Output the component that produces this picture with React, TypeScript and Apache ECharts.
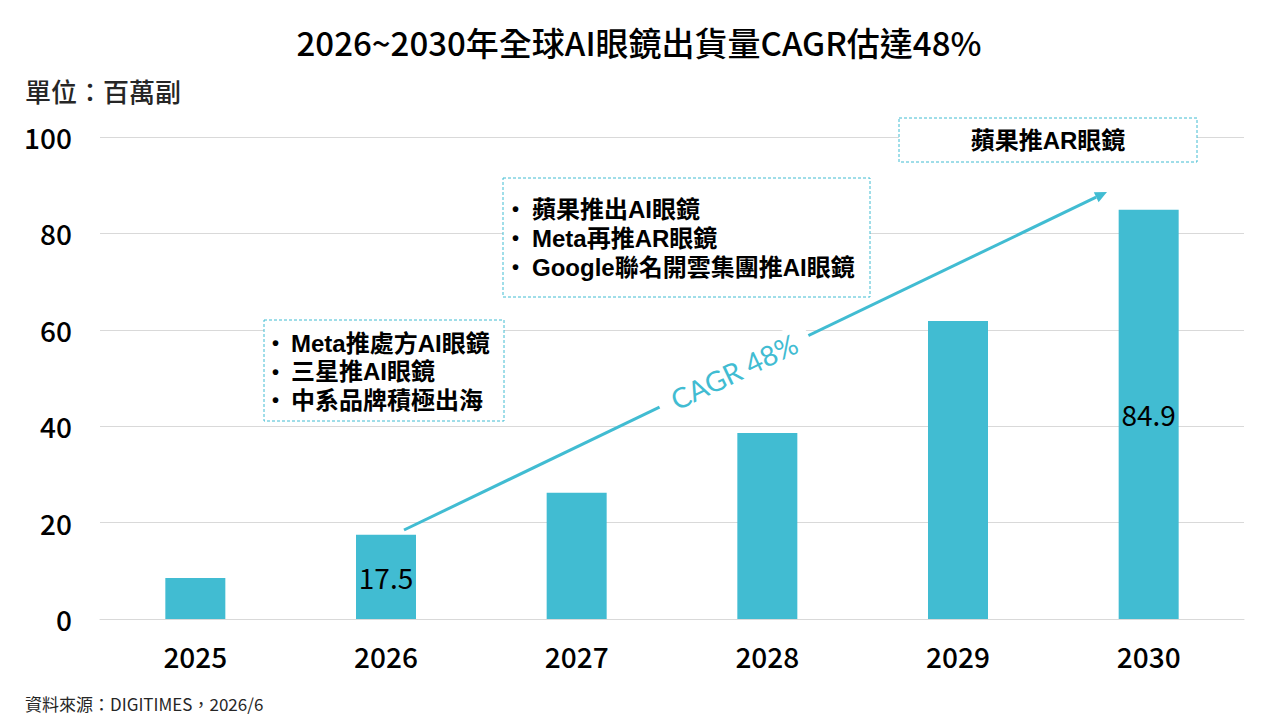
import React, { useEffect, useRef } from "react";
import * as echarts from "echarts";

const categories = ["2025", "2026", "2027", "2028", "2029", "2030"];
const shipments = [8.5, 17.5, 26.2, 38.6, 61.8, 84.9];
const labeledYears = ["2026", "2030"];
const yMin = 0;
const yMax = 100;
const yInterval = 20;

const titleText = "2026~2030年全球AI眼鏡出貨量CAGR估達48%";
const unitText = "單位：百萬副";
const sourceText = "資料來源：DIGITIMES，2026/6";
const box1Lines = ["Meta推處方AI眼鏡", "三星推AI眼鏡", "中系品牌積極出海"];
const box2Lines = ["蘋果推出AI眼鏡", "Meta再推AR眼鏡", "Google聯名開雲集團推AI眼鏡"];
const box3Text = "蘋果推AR眼鏡";
const cagrText = "CAGR 48%";

const TEAL = "#41BCD2";
const CJK = '"Noto Sans CJK TC", "Noto Sans", sans-serif';
const BOLDF = '"Liberation Sans", Arial, "Noto Sans CJK TC", sans-serif';

function txt(x: number, y: number, text: string, o: any = {}) {
  const align = o.align || "left";
  return {
    type: "text",
    x,
    y,
    z: o.z || 10,
    rotation: o.rotation || 0,
    style: {
      text,
      fill: o.fill || "#000",
      fontSize: o.fontSize || 16,
      fontFamily: o.fontFamily || CJK,
      fontWeight: o.fontWeight || "normal",
      textAlign: align,
      align,
      textVerticalAlign: "middle",
      verticalAlign: "middle",
      backgroundColor: o.backgroundColor,
      padding: o.padding,
    },
  };
}

function box(x: number, y: number, w: number, h: number) {
  return {
    type: "rect",
    z: 5,
    shape: { x, y, width: w, height: h },
    style: { fill: "#fff", stroke: TEAL, lineWidth: 1, lineDash: [3, 2] },
  };
}

function bulletList(lines: string[], bx: number, tx: number, y0: number, dy: number) {
  const out: any[] = [];
  lines.forEach((l, i) => {
    const y = y0 + i * dy;
    out.push(txt(bx, y, "•", { fontSize: 20, fontFamily: BOLDF, fontWeight: "bold" }));
    out.push(txt(tx, y, l, { fontSize: 24, fontFamily: BOLDF, fontWeight: "bold" }));
  });
  return out;
}

function buildGraphic() {
  const sx = 404, sy = 530, ex = 1107, ey = 192;
  const len = Math.hypot(ex - sx, ey - sy);
  const dx = (ex - sx) / len, dy = (ey - sy) / len;
  const nx = -dy, ny = dx;
  const headLen = 12, headHalf = 5.5;
  const bxp = ex - dx * headLen, byp = ey - dy * headLen;
  const angle = Math.atan2(-(ey - sy), ex - sx);
  const cx = 734;
  const cy = sy + (cx - sx) * (ey - sy) / (ex - sx);

  const g: any[] = [
    txt(639, 42, titleText, { fontSize: 33, align: "center", fontWeight: 500 }),
    txt(25, 90, unitText, { fontSize: 26, fill: "#262626", fontWeight: 500 }),
    txt(25, 703, sourceText, { fontSize: 17, fill: "#262626" }),
    {
      type: "line",
      z: 8,
      shape: { x1: sx, y1: sy, x2: bxp, y2: byp },
      style: { stroke: TEAL, lineWidth: 3 },
    },
    {
      type: "polygon",
      z: 8,
      shape: {
        points: [
          [ex, ey],
          [bxp + nx * headHalf, byp + ny * headHalf],
          [bxp - nx * headHalf, byp - ny * headHalf],
        ],
      },
      style: { fill: TEAL },
    },
    txt(cx, cy, cagrText, {
      fontSize: 28,
      fontFamily: 'Lato, "Open Sans", sans-serif',
      fill: TEAL,
      align: "center",
      rotation: angle,
      backgroundColor: "#fff",
      padding: [2, 14, 2, 14],
      z: 9,
    }),
    box(264, 320, 240, 101),
    box(503, 178, 367, 119),
    box(899, 118, 298, 44),
    txt(1048, 140, box3Text, { fontSize: 24, fontFamily: BOLDF, fontWeight: "bold", align: "center" }),
  ];
  g.push(...bulletList(box1Lines, 272, 291, 343, 28.5));
  g.push(...bulletList(box2Lines, 512, 532, 209, 29));
  return g;
}

export default function App() {
  const ref = useRef<HTMLDivElement>(null);
  useEffect(() => {
    document.body.style.margin = "0";
    if (!ref.current) return;
    const chart = echarts.init(ref.current, undefined, { renderer: "svg" });
    chart.setOption({
      animation: false,
      backgroundColor: "#fff",
      grid: { left: 100, right: 36, top: 137, bottom: 101, containLabel: false },
      xAxis: {
        type: "category",
        data: categories,
        axisLine: { show: true, lineStyle: { color: "#d9d9d9", width: 1 } },
        axisTick: { show: false },
        axisLabel: { color: "#000", fontSize: 28, fontFamily: CJK, fontWeight: 500, margin: 23 },
      },
      yAxis: {
        type: "value",
        min: yMin,
        max: yMax,
        interval: yInterval,
        axisLine: { show: false },
        axisTick: { show: false },
        splitLine: { lineStyle: { color: "#d9d9d9", width: 1 } },
        axisLabel: { color: "#000", fontSize: 28, fontFamily: CJK, fontWeight: 500, margin: 28 },
      },
      series: [
        {
          type: "bar",
          barWidth: 60,
          itemStyle: { color: TEAL },
          data: shipments.map((v, i) => ({
            value: v,
            label: {
              show: labeledYears.includes(categories[i]),
              position: "inside",
              color: "#000",
              fontSize: 28,
              fontFamily: CJK,
            },
          })),
        },
      ],
      graphic: buildGraphic(),
    });
    return () => chart.dispose();
  }, []);
  return <div ref={ref} style={{ width: 1280, height: 720 }} />;
}
